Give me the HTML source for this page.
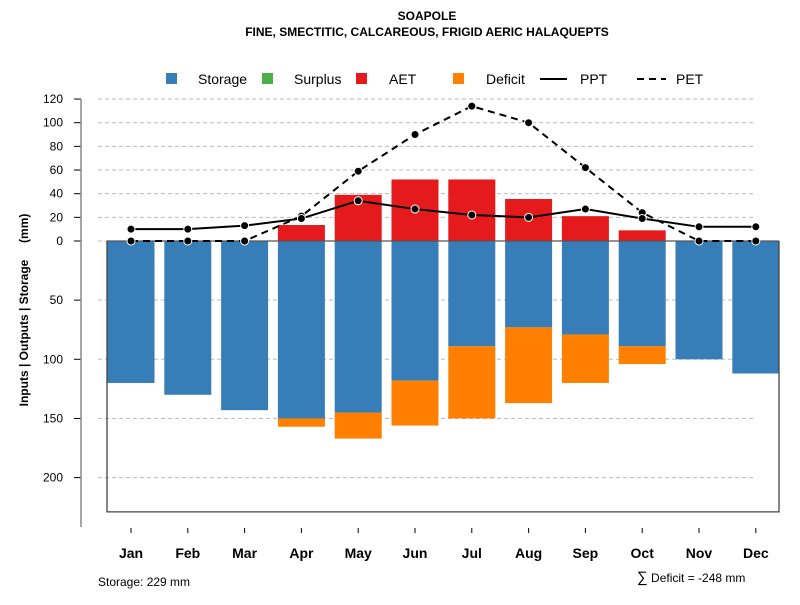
<!DOCTYPE html>
<html><head><meta charset="utf-8"><style>
body{margin:0;background:#fff;font-family:"Liberation Sans",Arial,sans-serif}
</style></head><body>
<svg id="chart" width="800" height="600" xmlns="http://www.w3.org/2000/svg" font-family="Liberation Sans, Arial, sans-serif">
<text x="427" y="20" text-anchor="middle" font-size="12" font-weight="bold">SOAPOLE</text>
<text x="427" y="36" text-anchor="middle" font-size="12" font-weight="bold">FINE, SMECTITIC, CALCAREOUS, FRIGID AERIC HALAQUEPTS</text>
<g font-size="14">
<rect x="166" y="73" width="11" height="11" fill="#377eb8"/>
<text x="198" y="84">Storage</text>
<rect x="262" y="73" width="11" height="11" fill="#4daf4a"/>
<text x="294" y="84">Surplus</text>
<rect x="356" y="73" width="11" height="11" fill="#e41a1c"/>
<text x="389" y="84">AET</text>
<rect x="453" y="73" width="11" height="11" fill="#ff7f00"/>
<text x="486" y="84">Deficit</text>
<line x1="540" y1="79" x2="567" y2="79" stroke="#000" stroke-width="2"/>
<text x="580" y="84">PPT</text>
<line x1="637" y1="79" x2="666" y2="79" stroke="#000" stroke-width="2" stroke-dasharray="7,5"/>
<text x="676" y="84">PET</text>
</g>
<text transform="translate(28,310) rotate(-90)" text-anchor="middle" font-size="12" font-weight="bold" xml:space="preserve">Inputs | Outputs | Storage     (mm)</text>
<g id="grid"></g><g id="bars"></g><g id="lines"></g><g id="axes"></g>
<text x="98" y="586" font-size="12">Storage: 229 mm</text>
<text x="637" y="582" font-size="12"><tspan font-size="15">∑</tspan> Deficit = -248 mm</text>
</svg>
<script>
const months=["Jan","Feb","Mar","Apr","May","Jun","Jul","Aug","Sep","Oct","Nov","Dec"];
const storage=[120,130,143,150,145,118,89,73,79,89,100,112];
const deficit=[0,0,0,7,22,38,61,64,41,15,0,0];
const aet=[0,0,0,13.5,39,52,52,35.5,21,9,0,0];
const ppt=[10,10,13,19,34,27,22,20,27,19,12,12];
const pet=[0,0,0,21,59,90,114,100,62,24,0,0];
const yTicksTop=[0,20,40,60,80,100,120];
const yTicksBottom=[50,100,150,200];
const storageCap=229;
const NS="http://www.w3.org/2000/svg";
const y=v=>241-v*1.183;
const x=i=>131+i*56.8;
const bw=47;
function mk(tag,attrs,parent){const e=document.createElementNS(NS,tag);for(const k in attrs)e.setAttribute(k,attrs[k]);document.getElementById(parent).appendChild(e);return e;}
yTicksTop.concat(yTicksBottom.map(v=>-v)).forEach(v=>{
 const g=mk('line',{x1:98,x2:756,y1:y(v),y2:y(v),stroke:'#bbb','stroke-dasharray':'4,3'},'grid');
 
 
 const t=mk('line',{x1:74,x2:81,y1:y(v),y2:y(v),stroke:'#000'},'axes');
 
 
 const l=mk('text',{x:63,y:y(v)+4,'text-anchor':'end','font-size':12},'axes');
 l.textContent=Math.abs(v);
 
 
});
const ax=mk('line',{x1:81,x2:81,y1:y(120),y2:527,stroke:'#888','stroke-width':1.5},'axes');


const box=mk('polyline',{points:`107,${y(0)} 107,${y(-storageCap)} 779,${y(-storageCap)} 779,${y(0)}`,fill:'none',stroke:'#444','stroke-width':1.3},'axes');


months.forEach((m,i)=>{
 const cx=x(i);
 const s=mk('rect',{x:cx-bw/2,y:y(0),width:bw,height:y(-storage[i])-y(0),fill:'#377eb8'},'bars');
 
 
 if(deficit[i]>0){const d=mk('rect',{x:cx-bw/2,y:y(-storage[i]),width:bw,height:y(-storage[i]-deficit[i])-y(-storage[i]),fill:'#ff7f00'},'bars');
 
 }
 if(aet[i]>0){const a=mk('rect',{x:cx-bw/2,y:y(aet[i]),width:bw,height:y(0)-y(aet[i]),fill:'#e41a1c'},'bars');
 
 }
 const t=mk('line',{x1:cx,x2:cx,y1:528,y2:533,stroke:'#000'},'axes');
 
 
 const l=mk('text',{x:cx,y:558,'text-anchor':'middle','font-size':14,'font-weight':'bold'},'axes');
 l.textContent=m;
 
 
});
const zl=mk('line',{x1:107,x2:779,y1:y(0),y2:y(0),stroke:'#555','stroke-width':1.3},'bars');


function series(vals,name,dash){
 const p=mk('polyline',{points:vals.map((v,i)=>x(i)+','+y(v)).join(' '),fill:'none',stroke:'#000','stroke-width':2,'stroke-dasharray':dash},'lines');
 
 
 vals.forEach((v,i)=>{const c=mk('circle',{cx:x(i),cy:y(v),r:4,fill:'#000',stroke:'#fff','stroke-width':1},'lines');
 
 });
}
series(pet,'pet','7,5');
series(ppt,'ppt','none');
</script>
</body></html>
